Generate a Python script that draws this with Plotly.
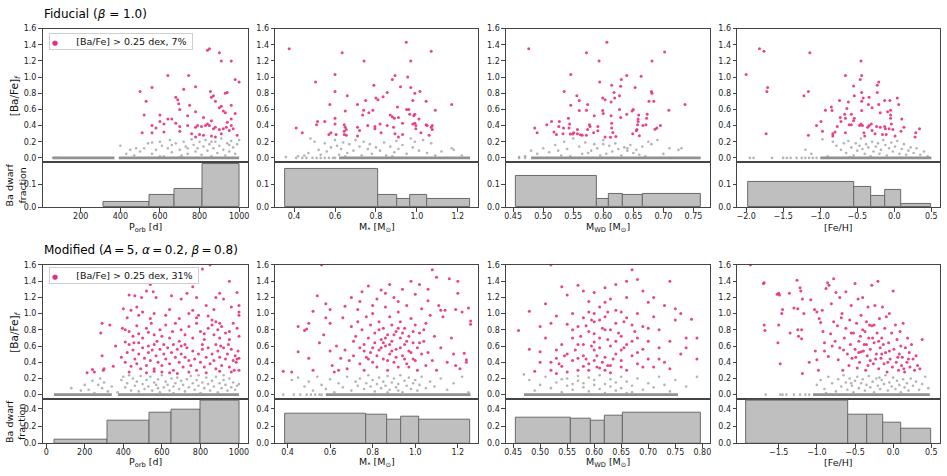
import plotly.graph_objects as go

W, H = 947, 476

# ======================= DATA =======================
x_labels = ["P<sub>orb</sub> [d]", "M<sub>*</sub> [M<sub>⊙</sub>]",
            "M<sub>WD</sub> [M<sub>⊙</sub>]", "[Fe/H]"]
row_titles = ["Fiducial (<i>β</i> = 1.0)",
              "Modified (<i>A</i>\u2009=\u20095, <i>α</i>\u2009=\u20090.2, <i>β</i>\u2009=\u20090.8)"]
legend_texts = ["[Ba/Fe] &gt; 0.25 dex, 7%", "[Ba/Fe] &gt; 0.25 dex, 31%"]

# ---- Fiducial: enhanced ([Ba/Fe] > 0.25) points (x, [Ba/Fe]) ----
fid_porb_hi = [(840,1.33),(850,1.35),(900,1.30),(910,1.20),(960,1.20),(640,1.02),(745,1.02),(1000,0.94),
    (980,0.97),(500,0.82),(560,0.87),(780,0.88),(720,0.85),(855,0.82),(930,0.80),(940,0.81),(870,0.77),
    (860,0.75),(880,0.70),(530,0.70),(680,0.75),(690,0.72),(695,0.67),(600,0.53),(520,0.53),(750,0.65),
    (700,0.60),(780,0.57),(900,0.62),(920,0.58),(930,0.56),(980,0.55),(960,0.65),(910,0.64),(640,0.48),
    (660,0.48),(740,0.52),(820,0.50),(860,0.46),(960,0.48),(940,0.44),(960,0.40),(880,0.38),(560,0.40),
    (580,0.37),(600,0.45),(620,0.42),(680,0.43),(700,0.39),(740,0.40),(780,0.38),(790,0.40),(810,0.39),
    (830,0.40),(840,0.42),(850,0.40),(870,0.36),(900,0.35),(920,0.36),(935,0.38),(950,0.34),(970,0.36),
    (510,0.31),(560,0.31),(620,0.32),(700,0.33),(760,0.30),(800,0.29),(820,0.28),(860,0.27),(880,0.26),
    (910,0.30),(990,0.28),(780,0.26)]
fid_mstar_hi = [(0.376,1.35),(0.635,1.30),(0.948,1.43),(1.07,1.32),(0.742,1.20),(0.97,1.20),(0.60,1.03),
    (0.505,0.94),(0.893,1.02),(0.79,0.90),(0.88,0.97),(0.955,1.00),(0.92,0.88),(0.97,0.87),(0.99,0.80),
    (1.015,0.82),(0.60,0.82),(0.66,0.77),(0.80,0.74),(0.81,0.72),(0.835,0.755),(0.855,0.81),(0.75,0.71),
    (0.98,0.71),(1.045,0.70),(0.575,0.66),(0.71,0.66),(1.17,0.66),(0.905,0.63),(0.95,0.60),(0.96,0.60),
    (1.09,0.59),(0.65,0.58),(0.74,0.59),(0.785,0.59),(0.735,0.53),(0.765,0.56),(0.87,0.53),(0.965,0.54),
    (0.985,0.52),(0.99,0.54),(0.88,0.51),(0.89,0.49),(0.91,0.50),(1.01,0.48),(0.60,0.49),(0.55,0.45),
    (0.515,0.45),(0.51,0.41),(0.41,0.37),(0.44,0.31),(0.60,0.42),(0.645,0.41),(0.65,0.38),(0.655,0.35),
    (0.645,0.33),(0.645,0.29),(0.655,0.28),(0.57,0.29),(0.58,0.31),(0.605,0.29),(0.71,0.38),(0.71,0.27),
    (0.72,0.34),(0.76,0.40),(0.82,0.42),(0.855,0.40),(0.795,0.39),(0.795,0.36),(0.886,0.38),(0.893,0.30),
    (0.93,0.43),(0.98,0.42),(0.99,0.43),(0.995,0.40),(0.995,0.36),(1.02,0.31),(1.045,0.41),(1.05,0.40),
    (1.07,0.38),(1.075,0.40),(1.075,0.35),(1.06,0.28),(0.825,0.31),(0.93,0.29),(0.91,0.26)]
fid_mwd_hi = [(0.476,1.35),(0.606,1.43),(0.572,1.30),(0.593,1.20),(0.702,1.31),(0.681,1.20),(0.546,1.03),
    (0.594,0.94),(0.639,1.02),(0.663,1.01),(0.63,0.97),(0.614,0.90),(0.629,0.885),(0.653,0.87),(0.535,0.82),
    (0.618,0.81),(0.680,0.82),(0.681,0.80),(0.556,0.77),(0.627,0.77),(0.599,0.74),(0.603,0.72),(0.619,0.74),
    (0.560,0.71),(0.613,0.69),(0.676,0.70),(0.684,0.70),(0.574,0.66),(0.736,0.66),(0.546,0.65),(0.709,0.59),
    (0.560,0.585),(0.572,0.59),(0.599,0.585),(0.627,0.60),(0.639,0.54),(0.648,0.58),(0.650,0.60),(0.659,0.53),
    (0.673,0.54),(0.585,0.52),(0.600,0.55),(0.542,0.49),(0.613,0.52),(0.629,0.50),(0.658,0.48),(0.672,0.49),
    (0.514,0.45),(0.527,0.45),(0.506,0.41),(0.486,0.37),(0.490,0.31),(0.614,0.43),(0.658,0.45),(0.657,0.41),
    (0.666,0.40),(0.671,0.41),(0.544,0.42),(0.577,0.41),(0.591,0.39),(0.578,0.39),(0.526,0.39),(0.534,0.37),
    (0.543,0.37),(0.557,0.35),(0.574,0.35),(0.614,0.37),(0.686,0.355),(0.689,0.37),(0.695,0.40),(0.518,0.32),
    (0.522,0.29),(0.533,0.30),(0.545,0.295),(0.549,0.295),(0.551,0.31),(0.557,0.30),(0.562,0.285),(0.572,0.28),
    (0.584,0.31),(0.591,0.335),(0.616,0.315),(0.621,0.265),(0.655,0.335),(0.656,0.35),(0.660,0.275),
    (0.649,0.30),(0.603,0.26),(0.565,0.28),(0.612,0.255)]
fid_feh_hi = [(-2.0,1.03),(-1.82,1.35),(-1.76,1.32),(-1.71,0.87),(-1.72,0.82),(-1.73,0.30),(-1.14,1.30),
    (-1.16,0.82),(-1.22,0.77),(-1.16,0.28),(-0.99,0.45),(-1.05,0.40),(-0.97,0.33),(-0.93,0.59),(-0.85,0.63),
    (-0.84,0.585),(-0.83,0.30),(-0.83,0.27),(-0.80,0.32),(-0.73,0.50),(-0.72,0.45),(-0.74,0.71),(-0.67,0.54),
    (-0.66,1.02),(-0.66,0.49),(-0.64,0.61),(-0.66,0.31),(-0.62,0.69),(-0.58,0.54),(-0.58,0.41),(-0.55,0.46),
    (-0.55,0.89),(-0.54,0.77),(-0.54,0.49),(-0.45,1.20),(-0.46,0.97),(-0.44,1.02),(-0.44,0.81),(-0.44,0.70),
    (-0.42,0.74),(-0.44,0.585),(-0.45,0.42),(-0.47,0.40),(-0.43,0.40),(-0.41,0.31),(-0.40,0.27),(-0.36,0.38),
    (-0.34,0.40),(-0.34,0.75),(-0.35,0.66),(-0.31,0.42),(-0.30,0.34),(-0.30,0.62),(-0.26,0.30),(-0.23,0.90),
    (-0.21,0.94),(-0.23,0.81),(-0.24,0.39),(-0.21,0.66),(-0.19,0.56),(-0.19,0.38),(-0.16,0.29),(-0.13,0.71),
    (-0.13,0.39),(-0.12,0.36),(-0.09,0.57),(-0.06,0.71),(-0.07,0.36),(-0.05,0.53),(-0.05,0.49),(-0.05,0.59),
    (-0.04,0.42),(-0.02,0.35),(0.01,0.27),(0.04,0.74),(0.06,0.66),(0.09,0.33),(0.10,0.48),(0.13,0.38),
    (-0.11,0.29),(0.28,0.26),(0.29,0.31),(0.34,0.36),(-0.77,0.39),(-0.61,0.41)]

# ---- Fiducial: non-enhanced points (x, [Ba/Fe]) ----
fid_porb_lo = [(400,0.15),(430,0.05),(450,0.10),(470,0.03),(500,0.08),(520,0.12),(540,0.18),(560,0.05),
    (580,0.10),(600,0.20),(610,0.15),(620,0.02),(640,0.12),(650,0.22),(660,0.07),(680,0.18),(700,0.10),
    (710,0.03),(720,0.20),(730,0.14),(740,0.05),(760,0.23),(770,0.16),(780,0.08),(790,0.12),(800,0.20),
    (810,0.04),(820,0.14),(830,0.22),(840,0.09),(850,0.17),(860,0.02),(870,0.12),(880,0.20),(890,0.06),
    (900,0.15),(910,0.24),(920,0.10),(930,0.03),(940,0.18),(950,0.08),(960,0.21),(970,0.13),(980,0.05),
    (990,0.17),(1000,0.22),(600,0.02),(700,0.01),(560,0.19),(480,0.12),(660,0.16),(740,0.12),(860,0.20),
    (950,0.16),(60,0.0),(75,0.0),(90,0.0)]
fid_mstar_lo = [(0.36,0.01),(0.42,0.02),(0.45,0.03),(0.47,0.06),(0.48,0.24),(0.50,0.20),(0.52,0.10),
    (0.53,0.04),(0.55,0.18),(0.56,0.08),(0.58,0.13),(0.60,0.22),(0.61,0.15),(0.62,0.04),(0.63,0.11),
    (0.64,0.19),(0.66,0.06),(0.67,0.17),(0.69,0.09),(0.70,0.22),(0.72,0.14),(0.73,0.03),(0.74,0.20),
    (0.76,0.11),(0.77,0.17),(0.78,0.05),(0.80,0.13),(0.82,0.09),(0.84,0.19),(0.85,0.03),(0.87,0.14),
    (0.89,0.07),(0.90,0.21),(0.91,0.11),(0.93,0.16),(0.95,0.05),(0.97,0.24),(0.98,0.13),(0.99,0.20),
    (1.01,0.09),(1.03,0.22),(1.05,0.06),(1.07,0.18),(1.09,0.03),(1.12,0.08),(1.17,0.12),(1.18,0.10),
    (1.22,0.03),(0.65,0.02),(0.88,0.02),(0.41,0.0),(0.44,0.0),(0.46,0.0),(0.49,0.0),(0.51,0.0),(0.53,0.0),
    (0.55,0.0),(0.57,0.0),(0.59,0.0),(0.60,0.0)]
fid_mwd_lo = [(0.46,0.01),(0.47,0.02),(0.48,0.09),(0.49,0.05),(0.50,0.12),(0.51,0.07),(0.52,0.16),
    (0.53,0.03),(0.535,0.20),(0.54,0.11),(0.55,0.24),(0.56,0.14),(0.565,0.05),(0.57,0.19),(0.58,0.09),
    (0.585,0.17),(0.59,0.12),(0.60,0.22),(0.605,0.05),(0.61,0.15),(0.615,0.08),(0.62,0.18),(0.625,0.11),
    (0.63,0.03),(0.635,0.13),(0.64,0.09),(0.645,0.16),(0.65,0.06),(0.655,0.10),(0.66,0.04),(0.665,0.14),
    (0.67,0.02),(0.675,0.20),(0.68,0.17),(0.69,0.22),(0.70,0.05),(0.71,0.12),(0.725,0.10),(0.73,0.12),
    (0.545,0.02),(0.595,0.03),(0.575,0.06),(0.525,0.09),(0.60,0.17),(0.64,0.12),(0.46,0.0),(0.47,0.0)]
fid_feh_lo = [(-0.97,0.23),(-0.83,0.20),(-0.78,0.15),(-0.72,0.10),(-0.68,0.18),(-0.65,0.06),(-0.62,0.21),
    (-0.58,0.13),(-0.55,0.03),(-0.52,0.18),(-0.50,0.09),(-0.47,0.15),(-0.45,0.24),(-0.43,0.11),(-0.40,0.05),
    (-0.38,0.17),(-0.35,0.13),(-0.32,0.02),(-0.30,0.20),(-0.28,0.08),(-0.25,0.14),(-0.22,0.18),(-0.20,0.05),
    (-0.18,0.10),(-0.15,0.22),(-0.12,0.16),(-0.10,0.03),(-0.07,0.12),(-0.04,0.19),(-0.02,0.08),(0.01,0.14),
    (0.04,0.21),(0.07,0.05),(0.10,0.11),(0.13,0.17),(0.16,0.04),(0.19,0.09),(0.22,0.13),(0.26,0.06),
    (0.30,0.12),(0.35,0.04),(0.40,0.08),(0.45,0.02),(-1.12,0.05),(-1.20,0.10),(-0.90,0.02),(-0.60,0.01),
    (-1.95,0.0),(-1.90,0.0),(-1.65,0.0),(-1.50,0.0),(-1.45,0.0),(-1.40,0.0),(-1.32,0.0),(-1.25,0.0),
    (-1.20,0.0),(-1.15,0.0),(-1.10,0.0),(-1.05,0.0)]

# ---- Fiducial: x-ranges crowded with [Ba/Fe] = 0 systems ----
fid_porb_zero = [(60, 370), (392, 1000)]
fid_mstar_zero = [(0.62, 1.26)]
fid_mwd_zero = [(0.48, 0.762)]
fid_feh_zero = [(-1.0, 0.5)]

# ---- Fiducial: Ba dwarf fraction per bin (edges, fractions) ----
fid_porb_edges = [314, 548, 674, 817, 1001]
fid_porb_frac = [0.022, 0.052, 0.081, 0.19]
fid_mstar_edges = [0.355, 0.809, 0.903, 0.969, 1.049, 1.26]
fid_mstar_frac = [0.171, 0.055, 0.035, 0.055, 0.035]
fid_mwd_edges = [0.454, 0.590, 0.610, 0.632, 0.666, 0.762]
fid_mwd_frac = [0.140, 0.038, 0.060, 0.055, 0.058]
fid_feh_edges = [-1.97, -0.543, -0.307, -0.126, 0.097, 0.50]
fid_feh_frac = [0.112, 0.091, 0.051, 0.077, 0.016]

# ---- Modified: enhanced points ----
mod_porb_hi = [(212,0.27),(240,0.31),(290,0.88),(283,0.76),(290,0.48),(296,0.30),(300,0.32),(330,0.86),
    (348,0.35),(360,0.60),(250,0.28),
    (400,1.06),(430,1.23),(420,0.95),(395,0.82),(410,0.65),(440,1.04),(460,1.22),(470,1.08),(480,0.98),
    (495,1.20),(520,1.28),(540,1.36),(555,1.27),(570,1.20),(600,1.48),(640,1.05),(650,1.22),(700,1.18),
    (730,1.25),(760,1.33),(780,1.20),(810,1.55),(830,1.10),(850,1.60),(880,1.20),(900,1.25),(920,1.18),
    (950,1.40),(990,1.26),(1000,1.10),(1000,1.02),(1000,0.98),(960,1.08),(870,1.05),(840,0.97),(790,0.98),
    (760,1.04),(740,1.00),(690,0.94),(620,0.98),(560,1.00),(500,1.02),(540,0.94),
    (410,0.80),(430,0.78),(450,0.72),(470,0.85),(480,0.75),(500,0.70),(520,0.82),(530,0.77),(545,0.88),
    (560,0.74),(575,0.66),(590,0.80),(600,0.72),(620,0.86),(640,0.70),(655,0.78),(670,0.88),(690,0.66),
    (700,0.80),(720,0.74),(740,0.84),(760,0.70),(780,0.88),(800,0.78),(820,0.68),(840,0.82),(860,0.86),
    (870,0.74),(880,0.90),(890,0.80),(900,0.70),(910,0.84),(930,0.76),(950,0.68),(970,0.88),(990,0.82),
    (1000,0.72),(880,0.62),(820,0.75),(720,0.62),(660,0.62),(560,0.62),(480,0.64),(430,0.62),(950,0.78),
    (860,0.92),(900,0.88),(780,0.95),
    (390,0.46),(410,0.40),(420,0.52),(440,0.35),(450,0.55),(460,0.44),(470,0.38),(480,0.50),(490,0.32),
    (500,0.58),(510,0.45),(520,0.36),(530,0.52),(540,0.42),(550,0.55),(560,0.32),(570,0.48),(580,0.40),
    (590,0.56),(600,0.36),(610,0.50),(620,0.44),(630,0.58),(640,0.38),(650,0.52),(660,0.30),(670,0.46),
    (680,0.56),(690,0.40),(700,0.50),(710,0.34),(720,0.46),(730,0.58),(740,0.42),(750,0.36),(760,0.54),
    (770,0.44),(780,0.30),(790,0.50),(800,0.40),(810,0.56),(820,0.34),(830,0.46),(840,0.58),(850,0.38),
    (860,0.50),(870,0.42),(880,0.32),(890,0.54),(900,0.46),(910,0.36),(920,0.58),(930,0.44),(940,0.50),
    (950,0.34),(960,0.56),(970,0.42),(980,0.48),(990,0.44),(1000,0.45),(995,0.54),(985,0.40),(975,0.30),
    (945,0.62),(905,0.60),(810,0.62),(700,0.60),(610,0.62),(530,0.60),(455,0.64),
    (430,0.28),(520,0.27),(600,0.28),(680,0.26),(740,0.28),(830,0.27),(900,0.29),(960,0.28),(1000,0.30),
    (560,0.29),(640,0.27)]
mod_mstar_hi = [(0.38,0.29),(0.42,0.28),(0.45,0.53),(0.45,0.84),(0.48,0.79),(0.49,0.81),(0.50,0.88),
    (0.50,0.45),(0.52,0.30),(0.52,1.03),(0.54,1.22),(0.55,0.64),(0.56,1.60),(0.58,1.12),(0.58,0.95),
    (0.57,0.74),(0.60,1.05),(0.60,0.88),(0.60,0.54),(0.61,0.36),(0.62,0.28),(0.63,0.60),(0.64,0.30),
    (0.65,0.45),(0.66,0.95),(0.67,1.09),(0.67,0.55),(0.68,0.32),(0.69,0.42),(0.70,0.84),(0.70,1.20),
    (0.71,0.66),(0.71,0.48),(0.72,0.72),(0.73,0.90),(0.73,1.05),(0.74,0.38),(0.74,0.58),(0.75,0.80),
    (0.75,1.27),(0.76,0.62),(0.76,0.30),(0.77,0.96),(0.77,0.46),(0.78,1.34),(0.78,0.70),(0.79,0.52),
    (0.79,0.86),(0.80,1.00),(0.80,0.40),(0.81,0.64),(0.81,0.76),(0.82,1.18),(0.82,0.34),(0.83,0.90),
    (0.83,0.55),(0.84,1.29),(0.84,0.68),(0.85,0.44),(0.85,0.82),(0.86,1.08),(0.86,0.60),(0.87,0.30),
    (0.87,0.74),(0.88,0.96),(0.88,1.36),(0.88,0.50),(0.89,0.66),(0.89,0.86),(0.90,1.20),(0.90,0.40),
    (0.91,0.56),(0.91,0.78),(0.92,1.02),(0.92,0.34),(0.93,0.70),(0.93,0.90),(0.94,1.30),(0.94,0.48),
    (0.95,0.62),(0.95,0.82),(0.96,1.10),(0.96,0.38),(0.97,0.54),(0.97,0.72),(0.98,1.40),(0.98,0.94),
    (0.99,0.44),(0.99,0.64),(1.00,0.86),(1.00,1.24),(1.01,0.30),(1.01,0.58),(1.02,1.36),(1.02,0.76),
    (1.03,0.50),(1.03,1.06),(1.04,0.66),(1.05,0.36),(1.05,0.88),(1.06,1.16),(1.06,0.52),(1.07,0.98),
    (1.08,1.54),(1.08,0.42),(1.09,0.72),(1.10,1.45),(1.10,0.30),(1.11,1.10),(1.12,0.58),(1.13,0.96),
    (1.14,1.04),(1.15,0.40),(1.16,1.43),(1.17,0.70),(1.18,0.50),(1.19,1.05),(1.20,1.40),(1.20,1.25),
    (1.21,0.32),(1.22,1.02),(1.23,0.51),(1.24,0.43),(1.25,1.07),(1.26,0.87),(1.26,0.91),(1.24,0.40),
    (1.19,0.36),(1.12,1.04),(1.06,1.30),(0.92,1.15),(0.86,1.25),(0.80,1.10),(0.74,1.15),
    (0.84,0.58),(0.86,0.70),(0.88,0.62),(0.90,0.74),(0.91,0.46),(0.93,0.58),(0.95,0.44),(0.96,0.66),
    (0.98,0.52),(0.99,0.78),(0.82,0.48),(0.80,0.58),(0.78,0.44),(0.76,0.54),(0.94,0.76),(0.92,0.82),
    (0.89,0.54),(0.87,0.42),(0.85,0.64),(0.97,0.34),(1.00,0.42),(1.02,0.64),(1.04,0.80),(0.83,0.80)]
mod_mwd_hi = [(0.46,0.79),(0.48,0.56),(0.48,1.03),(0.50,0.53),(0.50,0.84),(0.51,1.12),(0.51,0.70),
    (0.52,1.60),(0.52,0.88),(0.49,0.29),(0.50,0.40),(0.52,0.30),(0.53,0.55),(0.53,0.45),(0.54,0.35),
    (0.54,1.33),(0.55,0.87),(0.55,0.50),(0.55,1.23),(0.56,1.00),(0.56,0.70),(0.56,0.42),(0.57,1.35),
    (0.57,0.84),(0.57,0.30),(0.58,1.28),(0.58,0.62),(0.58,0.48),(0.59,1.02),(0.59,0.78),(0.59,0.38),
    (0.60,1.26),(0.60,0.90),(0.60,0.55),(0.61,1.08),(0.61,0.70),(0.61,0.33),(0.62,1.32),(0.62,0.96),
    (0.62,0.46),(0.62,0.80),(0.63,1.18),(0.63,0.60),(0.63,0.36),(0.64,1.36),(0.64,0.88),(0.64,0.50),
    (0.65,1.02),(0.65,0.72),(0.65,0.42),(0.66,1.40),(0.66,1.20),(0.66,0.62),(0.66,0.30),(0.67,1.54),
    (0.67,0.86),(0.67,0.48),(0.68,1.42),(0.68,1.00),(0.68,0.70),(0.68,0.38),(0.69,1.28),(0.69,0.56),
    (0.69,0.84),(0.70,1.14),(0.70,0.66),(0.70,0.44),(0.71,0.96),(0.71,0.34),(0.72,0.80),(0.72,0.58),
    (0.73,1.10),(0.73,0.40),(0.74,1.40),(0.74,0.66),(0.74,0.32),(0.75,1.06),(0.75,0.92),(0.76,0.50),
    (0.76,1.00),(0.77,0.70),(0.77,0.58),(0.78,0.93),(0.79,0.44),(0.79,0.70),(0.59,0.30),(0.60,0.42),
    (0.61,0.58),(0.57,0.62),(0.56,0.80),(0.58,0.95),(0.53,0.97),(0.54,0.62),(0.63,0.80),(0.64,0.66),
    (0.65,0.55),(0.62,0.30),(0.60,0.75),(0.61,0.92),(0.59,1.15),(0.58,0.35),(0.57,0.45),(0.55,0.28),
    (0.52,0.40),(0.53,0.26),(0.60,1.00),(0.62,1.14),(0.64,1.04),(0.66,0.95),(0.67,0.66),(0.69,0.34),
    (0.70,0.82),(0.71,1.20),(0.72,0.44),(0.63,0.27),(0.65,0.34),(0.68,0.52),(0.60,0.65),
    (0.565,0.55),(0.575,0.72),(0.585,0.85),(0.595,0.60),(0.605,0.48),(0.615,0.82),(0.625,0.68),
    (0.635,0.44),(0.645,0.76),(0.655,0.58),(0.605,0.34),(0.615,0.40),(0.625,0.36),(0.585,0.44),
    (0.545,0.48),(0.535,0.38),(0.675,0.78),(0.655,0.90),(0.625,1.02),(0.595,0.92)]
mod_feh_hi = [(-1.87,1.60),(-1.70,1.37),(-1.69,1.38),(-1.69,0.86),(-1.68,0.79),(-1.52,1.24),(-1.50,1.25),
    (-1.49,1.23),(-1.50,0.86),(-1.51,0.64),(-1.48,0.38),(-1.46,1.00),(-1.45,1.05),(-1.36,1.25),(-1.35,0.76),
    (-1.30,1.07),(-1.26,1.41),(-1.25,1.06),(-1.25,0.80),(-1.24,0.72),(-1.22,1.32),(-1.21,1.28),(-1.20,0.80),
    (-1.20,0.69),(-1.19,1.18),(-1.17,1.00),(-1.19,0.26),(-1.08,1.17),(-1.10,0.40),(-1.03,1.05),(-1.02,0.54),
    (-1.00,1.02),(-1.00,0.43),(-0.98,0.30),(-0.97,0.94),(-0.95,0.89),(-0.93,1.04),(-0.92,0.78),(-0.90,0.64),
    (-0.90,0.54),(-0.88,1.31),(-0.86,1.38),(-0.85,0.47),(-0.84,1.35),(-0.82,0.75),(-0.81,1.12),(-0.80,0.60),
    (-0.78,1.43),(-0.78,0.90),(-0.76,0.66),(-0.75,1.26),(-0.73,0.85),(-0.72,0.43),(-0.70,1.20),(-0.70,0.58),
    (-0.68,0.95),(-0.67,1.00),(-0.66,0.30),(-0.64,0.70),(-0.62,0.82),(-0.62,1.27),(-0.60,0.50),(-0.58,0.36),
    (-0.57,0.92),(-0.56,0.62),(-0.55,1.10),(-0.54,0.45),(-0.52,0.76),(-0.50,1.37),(-0.50,0.56),(-0.48,0.88),
    (-0.47,0.33),(-0.46,1.18),(-0.45,0.66),(-0.44,0.40),(-0.42,0.98),(-0.42,0.53),(-0.40,0.80),(-0.40,1.20),
    (-0.38,0.62),(-0.36,0.30),(-0.35,0.90),(-0.34,0.48),(-0.33,1.08),(-0.32,0.70),(-0.30,0.56),(-0.28,1.35),
    (-0.28,0.85),(-0.26,0.38),(-0.25,0.64),(-0.24,1.10),(-0.22,0.50),(-0.21,0.76),(-0.20,1.40),(-0.19,0.32),
    (-0.18,0.94),(-0.17,0.58),(-0.16,0.45),(-0.15,0.70),(-0.14,1.08),(-0.12,0.38),(-0.11,0.82),(-0.10,0.52),
    (-0.09,0.96),(-0.08,0.28),(-0.06,0.64),(-0.05,1.00),(-0.04,0.44),(-0.02,0.76),(-0.01,0.34),(0.00,1.28),
    (0.01,0.56),(0.03,0.86),(0.04,0.40),(0.05,0.68),(0.07,0.30),(0.08,0.50),(0.09,0.78),(0.10,0.60),
    (0.11,0.36),(0.12,0.46),(0.13,0.88),(0.15,0.28),(0.16,0.58),(0.18,0.40),(0.19,0.70),(0.21,0.52),
    (0.22,0.34),(0.24,0.62),(0.26,0.44),(0.28,0.30),(0.30,0.48),(0.32,0.36),(0.35,0.32),(0.38,0.68),
    (-0.35,0.62),(-0.45,0.52),(-0.30,0.42),(-0.25,0.86),(-0.15,0.50),(-0.05,0.54),(-0.55,0.76),(-0.65,0.55),
    (-0.43,0.72),(-0.37,0.78),(-0.31,0.86),(-0.27,0.70),(-0.23,0.44),(-0.13,0.62),(-0.07,0.40),(0.06,0.46),
    (0.14,0.32),(0.20,0.44),(-0.49,0.46),(-0.39,0.54),(-0.33,0.36),(-0.19,0.66)]

# ---- Modified: non-enhanced points ----
mod_porb_lo = [(130,0.08),(180,0.05),(200,0.12),(220,0.06),(240,0.17),(250,0.02),(270,0.12),(280,0.20),
    (290,0.08),(300,0.15),(320,0.04),(340,0.10),(370,0.03),(390,0.18),(400,0.22),(410,0.09),(420,0.14),
    (440,0.05),(450,0.20),(460,0.11),(470,0.16),(480,0.04),(490,0.23),(500,0.13),(510,0.07),(520,0.18),
    (530,0.10),(540,0.22),(550,0.05),(560,0.15),(570,0.12),(580,0.19),(590,0.03),(600,0.24),(610,0.09),
    (620,0.16),(630,0.12),(640,0.05),(650,0.20),(660,0.10),(670,0.14),(680,0.21),(690,0.07),(700,0.17),
    (710,0.12),(720,0.04),(730,0.19),(740,0.09),(750,0.23),(760,0.14),(770,0.06),(780,0.18),(790,0.11),
    (800,0.02),(810,0.15),(820,0.08),(830,0.21),(840,0.13),(850,0.05),(860,0.17),(870,0.10),(880,0.22),
    (890,0.03),(900,0.14),(910,0.08),(920,0.18),(930,0.12),(940,0.05),(950,0.20),(960,0.09),(970,0.15),
    (980,0.06),(990,0.11),(1000,0.13),(430,0.24),(580,0.08),(660,0.02),(790,0.24),(920,0.24)]
mod_mstar_lo = [(0.42,0.18),(0.45,0.21),(0.48,0.10),(0.50,0.16),(0.52,0.05),(0.54,0.22),(0.56,0.12),
    (0.58,0.07),(0.60,0.19),(0.62,0.03),(0.64,0.14),(0.66,0.09),(0.68,0.22),(0.70,0.05),(0.72,0.16),
    (0.73,0.11),(0.74,0.20),(0.76,0.07),(0.77,0.14),(0.78,0.24),(0.79,0.10),(0.80,0.18),(0.81,0.04),
    (0.82,0.13),(0.83,0.21),(0.84,0.08),(0.85,0.16),(0.86,0.11),(0.87,0.23),(0.88,0.06),(0.89,0.15),
    (0.90,0.20),(0.91,0.09),(0.92,0.13),(0.93,0.24),(0.94,0.03),(0.95,0.17),(0.96,0.11),(0.97,0.21),
    (0.98,0.07),(0.99,0.14),(1.00,0.18),(1.01,0.05),(1.02,0.12),(1.03,0.22),(1.05,0.08),(1.07,0.16),
    (1.09,0.10),(1.12,0.20),(1.15,0.06),(1.18,0.14),(1.22,0.22),(1.25,0.03),(0.87,0.03),(0.92,0.05),
    (0.38,0.0),(0.43,0.0),(0.46,0.0),(0.49,0.0),(0.51,0.0),(0.53,0.0),(0.55,0.0),(0.56,0.0)]
mod_mwd_lo = [(0.47,0.25),(0.48,0.18),(0.49,0.05),(0.50,0.12),(0.51,0.22),(0.52,0.08),(0.53,0.15),
    (0.54,0.03),(0.55,0.20),(0.55,0.11),(0.56,0.06),(0.57,0.17),(0.57,0.23),(0.58,0.09),(0.58,0.14),
    (0.59,0.21),(0.59,0.04),(0.60,0.12),(0.60,0.18),(0.61,0.07),(0.61,0.24),(0.62,0.13),(0.62,0.02),
    (0.63,0.19),(0.63,0.10),(0.64,0.15),(0.64,0.05),(0.65,0.22),(0.65,0.08),(0.66,0.16),(0.67,0.11),
    (0.67,0.03),(0.68,0.20),(0.69,0.06),(0.70,0.14),(0.71,0.09),(0.72,0.22),(0.73,0.12),(0.75,0.18),
    (0.77,0.10),(0.79,0.22),(0.74,0.04),(0.56,0.13),(0.54,0.19),(0.66,0.02)]
mod_feh_lo = [(-1.0,0.12),(-0.95,0.18),(-0.90,0.07),(-0.85,0.22),(-0.80,0.14),(-0.75,0.04),(-0.72,0.19),
    (-0.68,0.10),(-0.65,0.24),(-0.62,0.15),(-0.60,0.06),(-0.57,0.20),(-0.54,0.11),(-0.52,0.03),(-0.50,0.17),
    (-0.47,0.22),(-0.45,0.08),(-0.42,0.14),(-0.40,0.19),(-0.37,0.05),(-0.35,0.12),(-0.32,0.23),(-0.30,0.09),
    (-0.27,0.16),(-0.25,0.03),(-0.22,0.20),(-0.20,0.11),(-0.17,0.07),(-0.15,0.18),(-0.12,0.13),(-0.10,0.24),
    (-0.07,0.05),(-0.05,0.15),(-0.02,0.10),(0.00,0.21),(0.03,0.07),(0.05,0.17),(0.08,0.12),(0.10,0.03),
    (0.13,0.19),(0.15,0.09),(0.18,0.14),(0.20,0.05),(0.23,0.20),(0.26,0.11),(0.30,0.16),(0.34,0.06),
    (0.38,0.13),(0.42,0.22),(0.46,0.08),(-0.88,0.02),(-0.55,0.14),(-0.18,0.21),
    (-1.67,0.0),(-1.48,0.0),(-1.45,0.0),(-1.40,0.0),(-1.30,0.0),(-1.22,0.0),(-1.15,0.0),(-1.10,0.0)]

mod_porb_zero = [(40, 340), (372, 1000)]
mod_mstar_zero = [(0.58, 1.26)]
mod_mwd_zero = [(0.47, 0.755)]
mod_feh_zero = [(-1.05, 0.48)]

mod_porb_edges = [41, 317, 537, 652, 803, 1001]
mod_porb_frac = [0.039, 0.263, 0.359, 0.397, 0.496]
mod_mstar_edges = [0.387, 0.768, 0.868, 0.936, 1.018, 1.258]
mod_mstar_frac = [0.347, 0.336, 0.279, 0.313, 0.279]
mod_mwd_edges = [0.4545, 0.556, 0.594, 0.6195, 0.653, 0.797]
mod_mwd_frac = [0.297, 0.286, 0.267, 0.325, 0.359]
mod_feh_edges = [-1.927, -0.596, -0.335, -0.131, 0.108, 0.50]
mod_feh_frac = [0.491, 0.336, 0.336, 0.245, 0.164]

# ======================= LAYOUT CONFIG =======================
PINK = "#e6307f"
GREY = "#9b9b9b"
FONT = "DejaVu Sans"
AX = "#444444"

col_px = [(40.7, 247.3), (274.3, 478.3), (506.0, 710.7), (738.3, 941.7)]
row_px = [((25, 161), (161, 207)), ((266, 402.3), (402.3, 447.7))]
hist_ymax = [0.2, 0.52]
hist_yticks = [[0.0, 0.1], [0.0, 0.2, 0.4]]
xranges = [[(7, 1046), (0.3075, 1.30), (0.438, 0.777), (-2.121, 0.613)],
           [(-19, 1048), (0.342, 1.296), (0.4366, 0.8136), (-2.044, 0.61)]]
xticks = [[[200, 400, 600, 800, 1000], [0.4, 0.6, 0.8, 1.0, 1.2],
           [0.45, 0.50, 0.55, 0.60, 0.65, 0.70, 0.75], [-2.0, -1.5, -1.0, -0.5, 0.0, 0.5]],
          [[0, 200, 400, 600, 800, 1000], [0.4, 0.6, 0.8, 1.0, 1.2],
           [0.45, 0.50, 0.55, 0.60, 0.65, 0.70, 0.75, 0.80], [-1.5, -1.0, -0.5, 0.0, 0.5]]]
xfmt = ["d", ".1f", ".2f", ".1f"]

rows = [
    dict(hi=[fid_porb_hi, fid_mstar_hi, fid_mwd_hi, fid_feh_hi],
         lo=[fid_porb_lo, fid_mstar_lo, fid_mwd_lo, fid_feh_lo],
         zero=[fid_porb_zero, fid_mstar_zero, fid_mwd_zero, fid_feh_zero],
         edges=[fid_porb_edges, fid_mstar_edges, fid_mwd_edges, fid_feh_edges],
         frac=[fid_porb_frac, fid_mstar_frac, fid_mwd_frac, fid_feh_frac]),
    dict(hi=[mod_porb_hi, mod_mstar_hi, mod_mwd_hi, mod_feh_hi],
         lo=[mod_porb_lo, mod_mstar_lo, mod_mwd_lo, mod_feh_lo],
         zero=[mod_porb_zero, mod_mstar_zero, mod_mwd_zero, mod_feh_zero],
         edges=[mod_porb_edges, mod_mstar_edges, mod_mwd_edges, mod_feh_edges],
         frac=[mod_porb_frac, mod_mstar_frac, mod_mwd_frac, mod_feh_frac]),
]

fig = go.Figure()
layout = {}


def sfx(n):
    return "" if n == 1 else str(n)


def ydom(top, bot):
    return [1 - bot / H, 1 - top / H]


for r in range(2):
    data = rows[r]
    for c in range(4):
        n_sc = r * 8 + c * 2 + 1
        n_hi = n_sc + 1
        xr = list(xranges[r][c])
        x0, x1 = col_px[c]
        xdom = [x0 / W, x1 / W]
        (st, sb), (ht, hb) = row_px[r]

        # zero band (systems with [Ba/Fe] = 0)
        zx, zy = [], []
        for a, b in data["zero"][c]:
            zx += [a, b, None]
            zy += [0.0, 0.0, None]
        fig.add_trace(go.Scatter(x=zx, y=zy, mode="lines",
                                 line=dict(color="#858585", width=2.6),
                                 opacity=0.9, showlegend=False, hoverinfo="skip",
                                 xaxis="x" + sfx(n_sc), yaxis="y" + sfx(n_sc)))
        lo = data["lo"][c]
        fig.add_trace(go.Scatter(x=[p[0] for p in lo], y=[p[1] for p in lo], mode="markers",
                                 marker=dict(color=GREY, size=2.6, opacity=0.75),
                                 showlegend=False, hoverinfo="skip",
                                 xaxis="x" + sfx(n_sc), yaxis="y" + sfx(n_sc)))
        hi = data["hi"][c]
        fig.add_trace(go.Scatter(x=[p[0] for p in hi], y=[p[1] for p in hi], mode="markers",
                                 marker=dict(color=PINK, size=3.0, opacity=0.9),
                                 name=legend_texts[r], showlegend=False,
                                 xaxis="x" + sfx(n_sc), yaxis="y" + sfx(n_sc)))
        # Ba-dwarf fraction per bin
        e = data["edges"][c]
        centers = [(e[i] + e[i + 1]) / 2 for i in range(len(e) - 1)]
        widths = [e[i + 1] - e[i] for i in range(len(e) - 1)]
        fig.add_trace(go.Bar(x=centers, y=data["frac"][c], width=widths,
                             marker=dict(color="#bfbfbf", line=dict(color="#6a6a6a", width=1)),
                             showlegend=False, hoverinfo="skip",
                             xaxis="x" + sfx(n_hi), yaxis="y" + sfx(n_hi)))

        common = dict(showline=True, linecolor=AX, linewidth=1, mirror=True,
                      showgrid=False, zeroline=False, ticks="outside", ticklen=3.5,
                      tickwidth=1, tickcolor=AX,
                      tickfont=dict(family=FONT, size=8, color="#222"))
        layout["xaxis" + sfx(n_sc)] = dict(common, domain=xdom, range=xr, anchor="y" + sfx(n_sc),
                                           showticklabels=False, ticks="")
        layout["yaxis" + sfx(n_sc)] = dict(common, domain=ydom(st, sb), range=[-0.05, 1.6],
                                           anchor="x" + sfx(n_sc),
                                           tickvals=[0, 0.2, 0.4, 0.6, 0.8, 1.0, 1.2, 1.4, 1.6],
                                           tickformat=".1f")
        layout["xaxis" + sfx(n_hi)] = dict(common, domain=xdom, range=xr, anchor="y" + sfx(n_hi),
                                           tickvals=xticks[r][c], tickformat=xfmt[c],
                                           ticklabelstandoff=-2)
        layout["yaxis" + sfx(n_hi)] = dict(common, domain=ydom(ht, hb), range=[0, hist_ymax[r]],
                                           anchor="x" + sfx(n_hi),
                                           tickvals=hist_yticks[r], tickformat=".1f")

annotations = []
xlabel_y = [227.5, 467]
title_pos = [(40, 10), (40, 251)]
legend_pos = [(47.7, 29.3), (47.7, 268.3)]
for r in range(2):
    annotations.append(dict(text=row_titles[r], x=title_pos[r][0] / W, y=1 - title_pos[r][1] / H,
                            xref="paper", yref="paper", xanchor="left", yanchor="middle",
                            showarrow=False, font=dict(family=FONT, size=12, color="#000")))
    # legend box
    annotations.append(dict(
        text=('<span style="color:%s;font-size:7px">●</span>' % PINK) + "\u00a0" * 6 + legend_texts[r]
             + "\u00a0",
        x=legend_pos[r][0] / W, y=1 - legend_pos[r][1] / H, xref="paper", yref="paper",
        xanchor="left", yanchor="top", align="left", showarrow=False,
        bgcolor="rgba(255,255,255,0.85)", bordercolor="#cfcfcf", borderwidth=1, borderpad=2,
        font=dict(family=FONT, size=9.5, color="#111")))
    for c in range(4):
        x0, x1 = col_px[c]
        annotations.append(dict(text=x_labels[c], x=(x0 + x1) / 2 / W, y=1 - xlabel_y[r] / H,
                                xref="paper", yref="paper", xanchor="center", yanchor="middle",
                                showarrow=False, font=dict(family=FONT, size=9.5, color="#111")))
    (st, sb), (ht, hb) = row_px[r]
    annotations.append(dict(text="[Ba/Fe]<sub><i>f</i></sub>", x=13 / W, y=1 - (st + sb) / 2 / H,
                            xref="paper", yref="paper", xanchor="center", yanchor="middle",
                            textangle=-90, showarrow=False, font=dict(family=FONT, size=10.5, color="#111")))
    annotations.append(dict(text="Ba dwarf<br>fraction", x=14 / W, y=1 - (ht + hb) / 2 / H,
                            xref="paper", yref="paper", xanchor="center", yanchor="middle",
                            textangle=-90, showarrow=False, font=dict(family=FONT, size=9.5, color="#111")))

fig.update_layout(
    width=W, height=H, margin=dict(l=0, r=0, t=0, b=0),
    paper_bgcolor="white", plot_bgcolor="white",
    font=dict(family=FONT, size=9),
    annotations=annotations, barmode="overlay", bargap=0, showlegend=False,
    **layout,
)
fig.write_html("out.html", config={"displayModeBar": False},
               post_script="document.body.style.margin='0';")
